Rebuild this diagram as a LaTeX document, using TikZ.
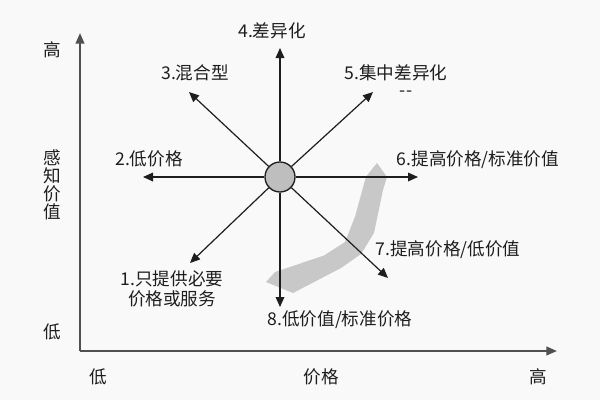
\documentclass[tikz,border=0pt]{standalone}
\usepackage{fontspec}
\newfontfamily\cjk{Noto Sans CJK SC}
\usetikzlibrary{arrows.meta}
\definecolor{ink}{HTML}{1E1E1E}
\definecolor{axisgr}{HTML}{505050}
\definecolor{hub}{HTML}{BEBEBE}
\definecolor{band}{HTML}{C8C8C8}
\definecolor{paper}{HTML}{F9F9F9}

\begin{document}
\begin{tikzpicture}[x=0.75pt,y=-0.75pt,
  lbl/.style={text=ink,font=\cjk\fontsize{13.2}{13.5}\selectfont,inner sep=0pt},
  ray/.style={-{Triangle[length=7.5pt,width=6.5pt]},ink,line width=0.9pt},
  axis/.style={-{Triangle[length=8pt,width=6.5pt]},axisgr,line width=1.5pt}]
  % page
  \fill[paper] (0,0) rectangle (600,400);
  \useasboundingbox (0,0) rectangle (600,400);
  % axes
  \coordinate (origin) at (80,351);
  \coordinate (ytop) at (80,33);
  \coordinate (xend) at (557,351);
  \draw[axis] (origin) -- (ytop);
  \draw[axis] (origin) -- (xend);
  \node[lbl] (yhigh) at (52,50) {高};
  \node[lbl,align=center] (yname) at (52,185) {感\\[0pt]知\\[0pt]价\\[0pt]值};
  \node[lbl] (ylow) at (52,332) {低};
  \node[lbl] (xlow) at (98,377) {低};
  \node[lbl] (xname) at (321,377) {价格};
  \node[lbl] (xhigh) at (538,377) {高};
  % grey path
  \fill[band] (377,163) -- (387,177) -- (383,190) -- (374,233)
    -- (361,254) -- (341,268) -- (293,293) -- (266,282)
    -- (275,272) -- (324,255.5) -- (345,242) -- (355,216.7)
    -- (366,176.7) -- cycle;
  % centre and ray tips
  \node[circle,draw=ink,fill=hub,line width=1pt,minimum size=22.5pt,
        inner sep=0pt] (hub) at (280,177) {};
  \coordinate (tip1) at (190,263);
  \coordinate (tip2) at (143,177);
  \coordinate (tip3) at (189,92);
  \coordinate (tip4) at (280,48);
  \coordinate (tip5) at (373,92);
  \coordinate (tip6) at (418,177);
  \coordinate (tip7) at (388,278);
  \coordinate (tip8) at (280,307);
  \foreach \k in {1,...,8}{\draw[ray] (hub) -- (tip\k);}
  % strategy labels
  \node[lbl,align=center] (opt1) at (172,289) {1.只提供必要\\[2pt]价格或服务};
  \node[lbl] (opt2) at (149,159) {2.低价格};
  \node[lbl] (opt3) at (195,73) {3.混合型};
  \node[lbl] (opt4) at (272,31) {4.差异化};
  \node[lbl] (opt5) at (396,73) {5.集中差异化};
  \node[lbl] (opt5dash) at (406,94) {-{}-};
  \node[lbl] (opt6) at (478,160) {6.提高价格/标准价值};
  \node[lbl] (opt7) at (448,250) {7.提高价格/低价值};
  \node[lbl] (opt8) at (340,320) {8.低价值/标准价格};
\end{tikzpicture}
\end{document}
